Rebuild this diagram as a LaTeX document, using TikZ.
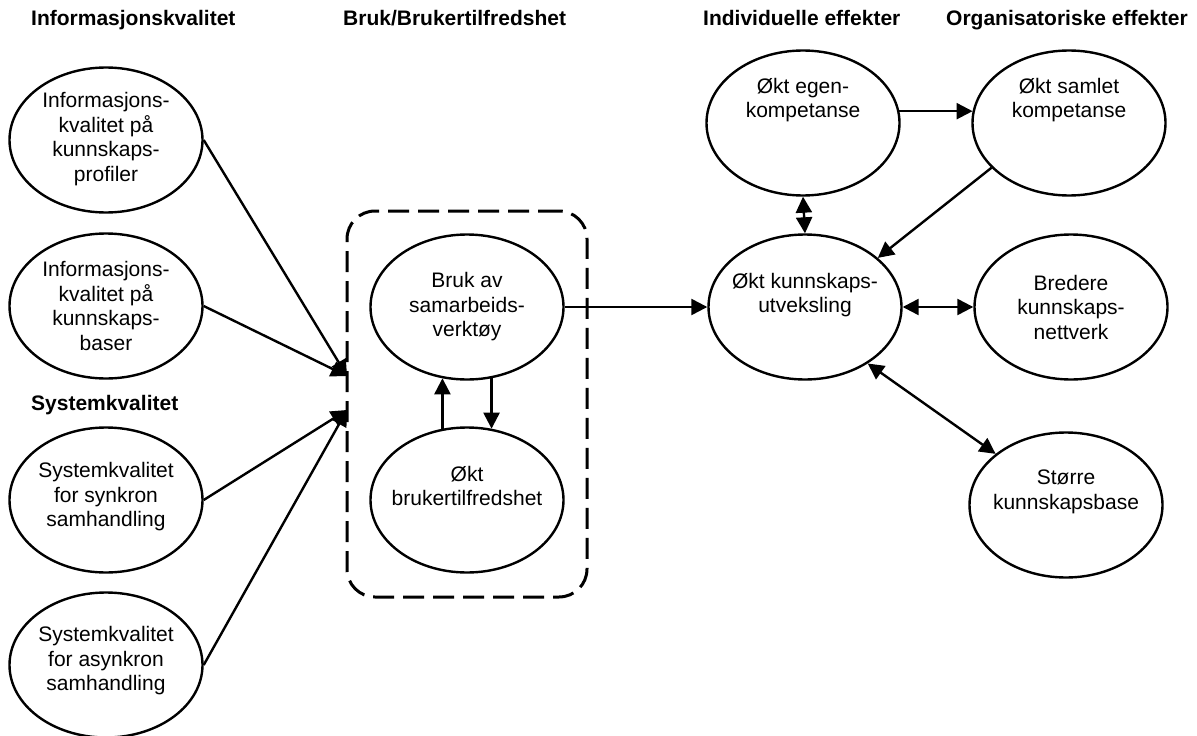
\documentclass[tikz,border=0pt]{standalone}
\usepackage{fontspec}
\setmainfont{Liberation Sans}
\usetikzlibrary{shapes.geometric,arrows.meta}
\begin{document}
\begin{tikzpicture}[x=1pt,y=-1pt,
  oval/.style={draw,ellipse,line width=2.4pt,minimum width=193pt,minimum height=145pt,inner sep=0pt},
  txt/.style={align=center,font=\fontsize{21}{24.5}\selectfont,inner sep=0pt},
  head/.style={anchor=base west,font=\fontsize{21}{24}\selectfont\bfseries,inner sep=0pt},
  tip/.tip={Triangle[length=16pt,width=16pt]},
  conn/.style={line width=2.4pt,-tip},
  biconn/.style={line width=2.4pt,tip-tip},
  groupbox/.style={draw,line width=3pt,dash pattern=on 21pt off 9pt,rounded corners=28pt,minimum width=240pt,minimum height=386pt,inner sep=0pt}]
\useasboundingbox (0,0) rectangle (1197,736);

% column headings
\node[head] (h1) at (31,25) {Informasjonskvalitet};
\node[head] (h2) at (343,25) {Bruk/Brukertilfredshet};
\node[head] (h3) at (703,25) {Individuelle effekter};
\node[head] (h4) at (946,25) {Organisatoriske effekter};
\node[head] (h5) at (31,410) {Systemkvalitet};

% dashed grouping box
\node[groupbox] (grp) at (467,404) {};

% quality factors
\node[oval] (prof) at (106,140) {};
\node[txt] (prof-t) at (106,139) {Informasjons-\\kvalitet på\\kunnskaps-\\profiler};
\node[oval] (base) at (106,306) {};
\node[txt] (base-t) at (106,306) {Informasjons-\\kvalitet på\\kunnskaps-\\baser};
\node[oval] (sync) at (106,500) {};
\node[txt] (sync-t) at (106,497) {Systemkvalitet\\for synkron\\samhandling};
\node[oval] (async) at (106,665) {};
\node[txt] (async-t) at (106,661) {Systemkvalitet\\for asynkron\\samhandling};

% use and satisfaction
\node[oval] (bruk) at (467,307) {};
\node[txt] (bruk-t) at (467,307) {Bruk av\\samarbeids-\\verktøy};
\node[oval] (tilf) at (467,500) {};
\node[txt] (tilf-t) at (467,486) {Økt\\brukertilfredshet};

% effects
\node[oval] (egen) at (803,123) {};
\node[txt] (egen-t) at (803,100) {Økt egen-\\kompetanse};
\node[oval] (saml) at (1069,123) {};
\node[txt] (saml-t) at (1069,100) {Økt samlet\\kompetanse};
\node[oval] (utv) at (805,307) {};
\node[txt] (utv-t) at (805,295) {Økt kunnskaps-\\utveksling};
\node[oval] (bred) at (1071,307) {};
\node[txt] (bred-t) at (1071,307) {Bredere\\kunnskaps-\\nettverk};
\node[oval] (stor) at (1066,505) {};
\node[txt] (stor-t) at (1066,492) {Større\\kunnskapsbase};

% arrow targets on the group border
\coordinate (in1) at (347,376);
\coordinate (in2) at (347,410);

% connectors
\draw[conn] (prof.east) -- (in1);
\draw[conn] (base.east) -- (in1);
\draw[conn] (sync.east) -- (in2);
\draw[conn] (async.east) -- (in2);
\draw[conn] (tilf.109) -- (bruk.251);
\draw[conn] (bruk.289) -- (tilf.71);
\draw[conn] (bruk.east) -- (utv.west);
\draw[conn] (egen.7) -- (saml.173);
\draw[biconn] (egen.south) -- (utv.north);
\draw[conn] (saml.210) -- (utv.34);
\draw[biconn] (utv.east) -- (bred.west);
\draw[biconn] (utv.318) -- (stor.144);
\end{tikzpicture}
\end{document}
